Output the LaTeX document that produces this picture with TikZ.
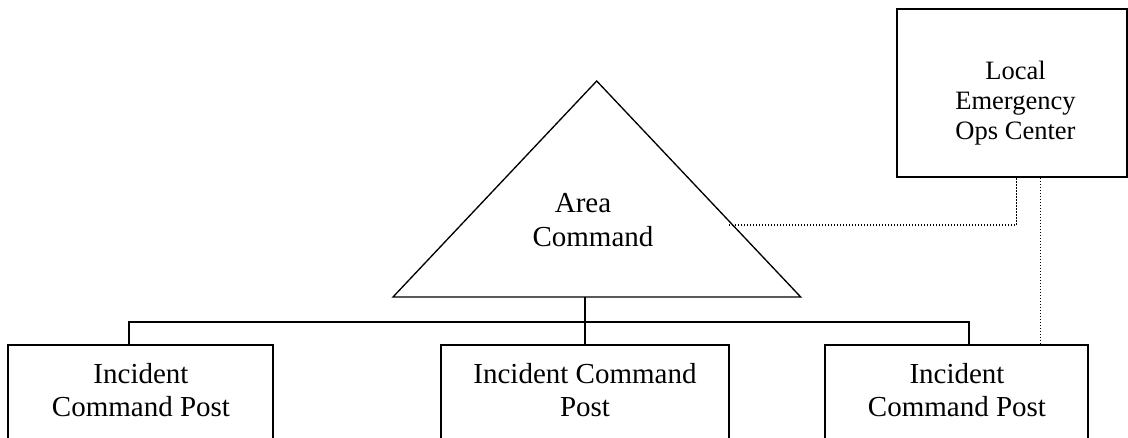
\documentclass[tikz,border=0pt]{standalone}
\usepackage{fontspec}
\setmainfont{Liberation Serif}
\newcommand{\stacklines}[1]{\begin{tabular}[t]{@{}c@{}}#1\end{tabular}}
\begin{document}
\begin{tikzpicture}[x=0.75pt, y=-0.75pt,
  box/.style={draw, line width=1.5pt, rectangle, inner sep=0pt},
  tri/.style={draw, line width=1pt, line join=miter},
  conn/.style={draw, line width=1.4pt},
  dotline/.style={draw, line width=1.1pt, dash pattern=on 1.1pt off 1.15pt},
  txt/.style={inner sep=0pt, anchor=base, font=\fontsize{21.75}{25}\selectfont},
  smalltxt/.style={inner sep=0pt, anchor=base, font=\fontsize{19.9}{22.5}\selectfont}]
\clip (0,0) rectangle (1128,438);
\fill[white] (0,0) rectangle (1128,438);

% Area Command triangle
\coordinate (apex) at (596.7,81);
\coordinate (baseL) at (393,297);
\coordinate (baseR) at (800.7,297);
\draw[tri] (apex) -- (baseR) -- (baseL) -- cycle;
\coordinate (acbase) at (585,297);
\coordinate (acside) at (729,225);
\coordinate (bus) at (585,321.7);
\node[txt] (actext) at (593,213) {\stacklines{Area\hspace*{15pt}\\Command}};

% Local Emergency Ops Center
\node[box, minimum width=172.5pt, minimum height=125.55pt] (leoc) at (1011.7,93) {};
\node[smalltxt] (leoctext) at (1015.5,79.3) {\stacklines{Local\\Emergency\\Ops Center}};

% Incident Command Posts
\node[box, minimum width=198.75pt, minimum height=86.25pt] (icp1) at (140.8,402.5) {};
\node[box, minimum width=216pt, minimum height=86.25pt] (icp2) at (585,402.5) {};
\node[box, minimum width=197.5pt, minimum height=86.25pt] (icp3) at (956.6,402.5) {};
\node[txt] (icp1text) at (141,383.3) {\stacklines{Incident\\Command Post}};
\node[txt] (icp2text) at (585,383.3) {\stacklines{Incident Command\\Post}};
\node[txt] (icp3text) at (957,383.3) {\stacklines{Incident\\Command Post}};

% Command lines
\draw[conn] (acbase) -- (icp2.north);
\draw[conn] ([xshift=-8.85pt]icp1.north) |- (bus) -| ([xshift=9.4pt]icp3.north);

% Coordination lines (dotted)
\draw[dotline] (acside) -| ([xshift=3.75pt]leoc.south);
\draw[dotline] ([xshift=21.75pt]leoc.south) -- ([xshift=21.75pt]leoc.south |- icp3.north);
\end{tikzpicture}
\end{document}
